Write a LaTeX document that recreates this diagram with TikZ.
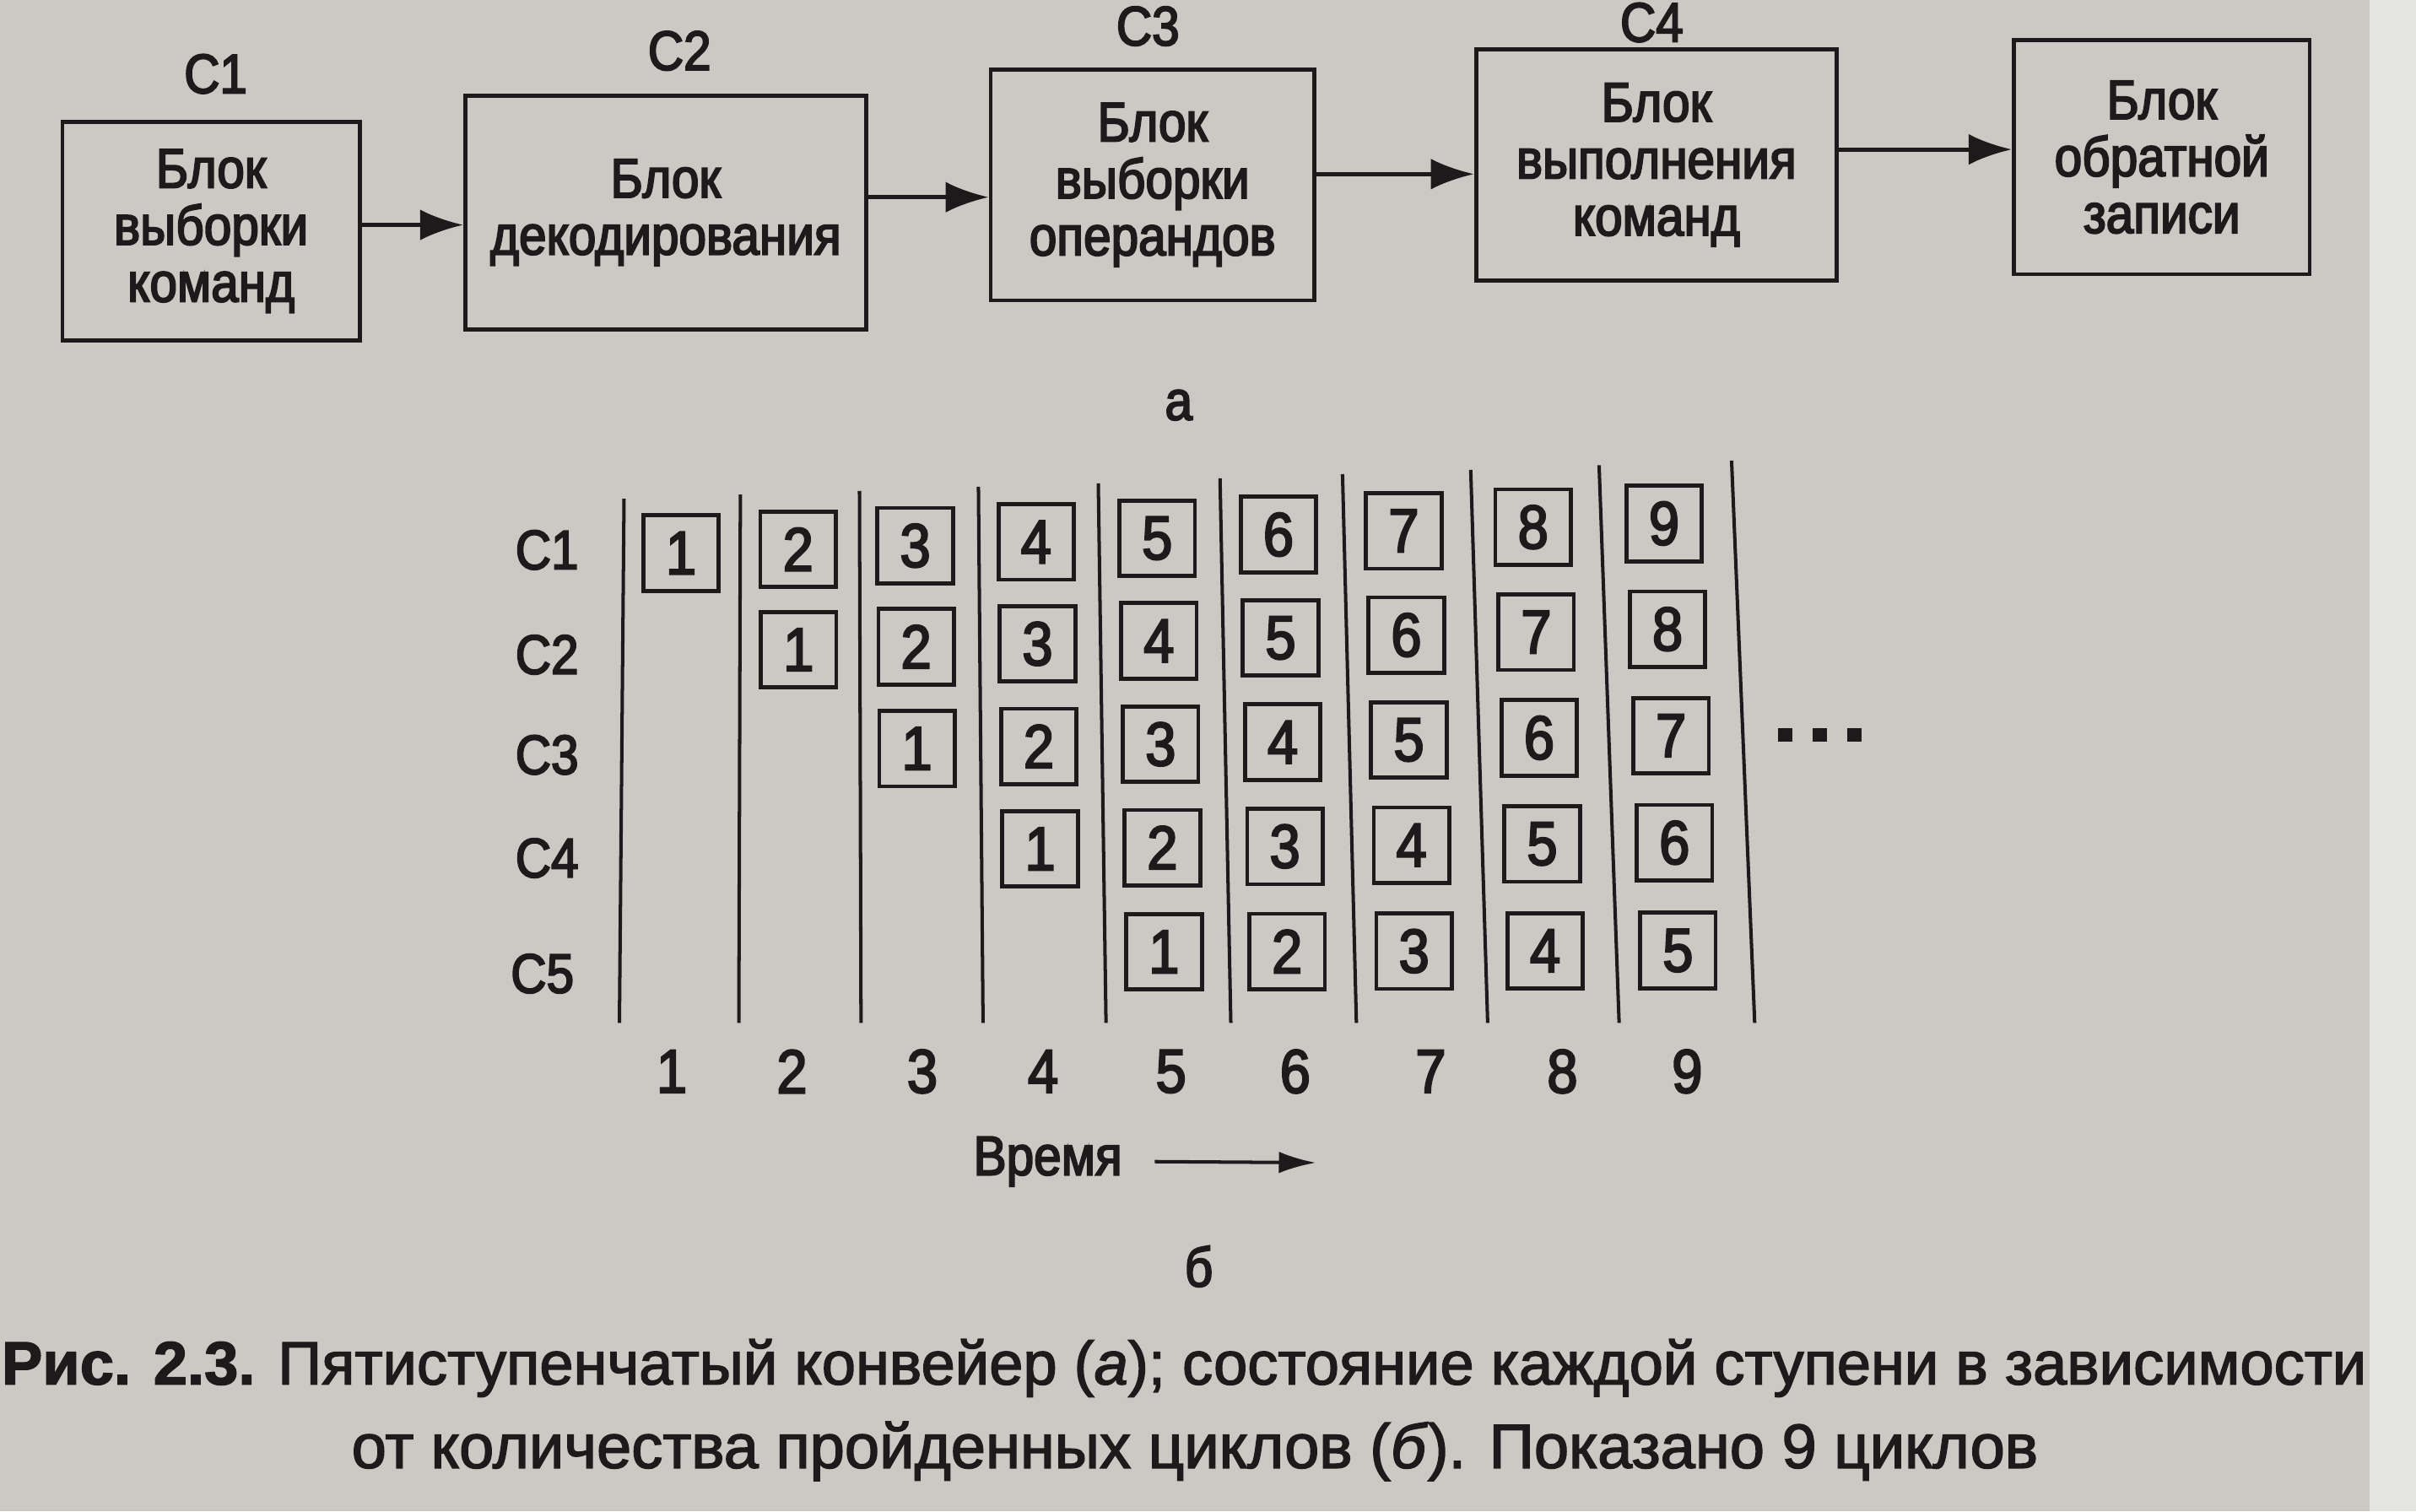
\documentclass[tikz,border=0pt]{standalone}
\usepackage{fontspec}
\setmainfont{Liberation Sans}[FakeStretch=0.89,FakeBold=3]
\newfontfamily\capfont{Liberation Sans}[FakeBold=2]
\usetikzlibrary{arrows.meta,calc}
\definecolor{paper}{RGB}{204,201,196}
\definecolor{paperedge}{RGB}{228,228,226}
\definecolor{ink}{RGB}{28,26,26}
\begin{document}
\begin{tikzpicture}[x=1pt,y=-1pt,
  stage/.style={draw=ink,line width=2.6pt,align=center,text=ink,
    font=\fontsize{36}{37}\selectfont,inner sep=4pt},
  flow/.style={draw=ink,line width=2.8pt,-{Latex[length=28pt,width=20pt]}},
  slabel/.style={text=ink,font=\fontsize{36}{38}\selectfont,inner sep=0pt},
  cell/.style={draw=ink,line width=2.6pt,minimum size=49pt,inner sep=0pt,
    text=ink,font=\fontsize{40}{40}\selectfont},
  rule/.style={draw=ink,line width=2.2pt},
  colnum/.style={text=ink,font=\fontsize{40}{40}\selectfont,inner sep=0pt},
  dotsq/.style={fill=ink,minimum size=9pt,inner sep=0pt},
  tarrow/.style={draw=ink,line width=2.2pt,-{Latex[length=24pt,width=14pt]}},
  caption/.style={text=ink,inner sep=0pt},
]
\useasboundingbox (0,0) rectangle (1568,981);
\fill[paper] (0,0) rectangle (1568,981);
\fill[paperedge] (1538,0) rectangle (1568,981);

% ---- a: five-stage pipeline ----
\node[stage,minimum width=193pt,minimum height=142pt] (s1) at (137,150) {Блок\\выборки\\команд};
\node[stage,minimum width=260pt,minimum height=152pt] (s2) at (432,138) {Блок\\декодирования};
\node[stage,minimum width=210pt,minimum height=150pt] (s3) at (748,120) {Блок\\выборки\\операндов};
\node[stage,minimum width=234pt,minimum height=150pt] (s4) at (1075,107) {Блок\\выполнения\\команд};
\node[stage,minimum width=192pt,minimum height=152pt] (s5) at (1403,102) {Блок\\обратной\\записи};

\node[slabel] (l1) at (140,48) {С1};
\node[slabel] (l2) at (441,33) {С2};
\node[slabel] (l3) at (745,17) {С3};
\node[slabel,anchor=base] (l4) at (1072,27) {С4};

\draw[flow] ([yshift=4pt]s1.east) -- ([yshift=4pt]s1.east -| s2.west);
\draw[flow] ([yshift=10pt]s2.east) -- ([yshift=10pt]s2.east -| s3.west);
\draw[flow] ([yshift=7pt]s3.east) -- ([yshift=7pt]s3.east -| s4.west);
\draw[flow] ([yshift=10pt]s4.east) -- ([yshift=10pt]s4.east -| s5.west);

\node[slabel] (la) at (765,263) {а};

% ---- b: state of each stage per cycle ----
\node[slabel] (r1) at (355,357) {С1};
\node[slabel] (r2) at (355,425) {С2};
\node[slabel] (r3) at (355,490) {С3};
\node[slabel] (r4) at (355,557) {С4};
\node[slabel] (r5) at (352,632) {С5};

% cycle separators
\foreach \x/\t [count=\i] in {405/323.7, 480.5/321, 557.8/318.7, 635/316, 712.8/313.8,
    791.8/310.5, 871.3/307.8, 954.5/305, 1037.8/302, 1123.8/299}
  \draw[rule] (\x,\t) -- ({\x-3+2*(\i-1)},664);

% instruction numbers held by each stage
\foreach \r/\yo/\s in {1/359/2.4, 2/421.7/1.9, 3/485.9/1.4, 4/551/0.8, 5/617.8/0.2} {
  \foreach \k/\cx in {1/442,2/518,3/594,4/672.5,5/751,6/829.7,7/911,8/995,9/1080} {
    \ifnum\k<\r\relax\else
      \pgfmathtruncatemacro\n{\k-\r+1}
      \node[cell] (c\r-\k) at ({\cx+(\r-1)*(\k-1)*0.28},{\yo-\s*(\k-\r)}) {\n};
    \fi
  }
}

\foreach \i in {0,1,2}
  \node[dotsq] (dot\i) at ({1158.5+22.5*\i},477) {};

\foreach \x [count=\k] in {436,514,598.6,677,760,840.6,928.5,1014,1095}
  \node[colnum] (n\k) at (\x,695.5) {\k};

\node[slabel] (time) at (680,754) {Время};
\coordinate (tend) at (854,754.7);
\draw[tarrow] ([xshift=21pt]time.east) -- (tend);

\node[slabel] (lb) at (778,822) {б};

% ---- caption ----
\node[caption,anchor=east,font=\capfont\fontsize{39.6}{41}\selectfont] (cap1) at (1536,888)
  {\textbf{Рис. 2.3.} Пятиступенчатый конвейер (\textit{а}); состояние каждой ступени в зависимости};
\node[caption,anchor=west,font=\capfont\fontsize{40.6}{41}\selectfont] (cap2) at (228,942)
  {от количества пройденных циклов (\textit{б}). Показано 9 циклов};
\end{tikzpicture}
\end{document}
